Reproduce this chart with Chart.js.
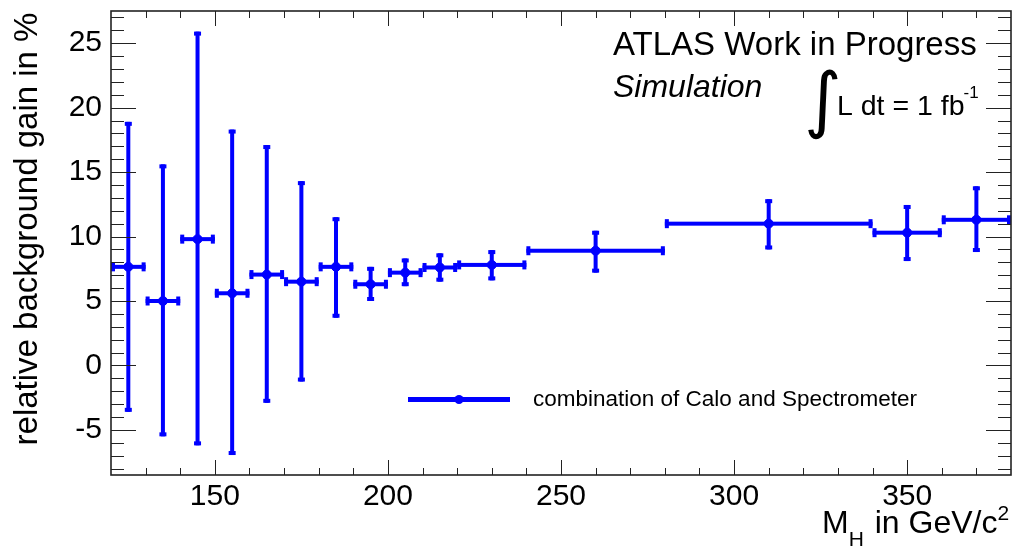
<!DOCTYPE html>
<html>
<head>
<meta charset="utf-8">
<script src="https://cdn.jsdelivr.net/npm/chart.js@4"></script>
<style>
  html, body { margin: 0; padding: 0; background: #fff; }
  #wrap { width: 1012px; height: 552px; }
</style>
</head>
<body>
<div id="wrap"><canvas id="gainChart" width="1012" height="552"></canvas></div>
<script>
// Higgs mass bins (bin centre and half width), GeV/c^2
const massCentre = [125, 135, 145, 155, 165, 175, 185, 195, 205, 215, 230, 260, 310, 350, 370];
const massHalfWidth = [5, 5, 5, 5, 5, 5, 5, 5, 5, 5, 10, 20, 30, 10, 10];
// relative background gain in %
const gain = [7.65, 5.0, 9.8, 5.6, 7.05, 6.5, 7.65, 6.3, 7.2, 7.6, 7.8, 8.9, 11.0, 10.3, 11.3];
const gainUpper = [18.9, 15.6, 25.9, 18.3, 17.1, 14.3, 11.5, 7.65, 8.3, 8.7, 8.95, 10.45, 12.9, 12.45, 13.9];
const gainLower = [-3.6, -5.5, -6.2, -6.95, -2.9, -1.25, 3.7, 5.0, 6.15, 6.5, 6.6, 7.2, 9.0, 8.1, 8.8];

const xTicks = [150, 200, 250, 300, 350];
const yTicks = [-5, 0, 5, 10, 15, 20, 25];

const FONT = "'Liberation Sans', Arial, Helvetica, sans-serif";
const BLUE = "#0000ff";

const points = massCentre.map((m, i) => ({ x: m, y: gain[i] }));

// error bars (ROOT style, with small end caps)
const errorBars = {
  id: "errorBars",
  beforeDatasetsDraw(chart) {
    const ctx = chart.ctx;
    const xs = chart.scales.x, ys = chart.scales.y;
    ctx.save();
    ctx.fillStyle = BLUE;
    const lw = 4, cap = 9;
    massCentre.forEach((m, i) => {
      const x0 = xs.getPixelForValue(m - massHalfWidth[i]);
      const x1 = xs.getPixelForValue(m + massHalfWidth[i]);
      const xc = xs.getPixelForValue(m);
      const yc = ys.getPixelForValue(gain[i]);
      const yt = ys.getPixelForValue(gainUpper[i]);
      const yb = ys.getPixelForValue(gainLower[i]);
      // horizontal bar + caps
      ctx.fillRect(x0, yc - lw / 2, x1 - x0, lw);
      ctx.fillRect(x0, yc - cap / 2, lw, cap);
      ctx.fillRect(x1 - lw, yc - cap / 2, lw, cap);
      // vertical bar + caps
      ctx.fillRect(xc - lw / 2, yt, lw, yb - yt);
      ctx.fillRect(xc - cap / 2 + 1, yt, cap - 2, lw);
      ctx.fillRect(xc - cap / 2 + 1, yb - lw, cap - 2, lw);
    });
    ctx.restore();
  }
};

// frame with inward ticks on all four sides
const frame = {
  id: "frame",
  afterDraw(chart) {
    const ctx = chart.ctx;
    const a = chart.chartArea;
    const xs = chart.scales.x, ys = chart.scales.y;
    ctx.save();
    ctx.strokeStyle = "#222";
    ctx.lineWidth = 1;
    ctx.beginPath();
    for (let v = 130; v <= 370; v += 10) {
      const px = Math.round(xs.getPixelForValue(v)) + 0.5;
      const len = v % 50 === 0 ? 15 : 7;
      ctx.moveTo(px, a.bottom); ctx.lineTo(px, a.bottom - len);
      ctx.moveTo(px, a.top); ctx.lineTo(px, a.top + len);
    }
    for (let v = -8; v <= 27; v += 1) {
      const py = Math.round(ys.getPixelForValue(v)) + 0.5;
      const len = v % 5 === 0 ? 25 : 13;
      ctx.moveTo(a.left, py); ctx.lineTo(a.left + len, py);
      ctx.moveTo(a.right, py); ctx.lineTo(a.right - len, py);
    }
    ctx.stroke();
    ctx.lineWidth = 1.6;
    ctx.strokeRect(a.left, a.top, a.right - a.left, a.bottom - a.top);
    ctx.restore();
  }
};

// titles, legend and ATLAS labels
const labels = {
  id: "labels",
  afterDraw(chart) {
    const ctx = chart.ctx;
    ctx.save();
    ctx.fillStyle = "#000";
    ctx.textBaseline = "alphabetic";

    // y title
    ctx.save();
    ctx.translate(37, 229);
    ctx.rotate(-Math.PI / 2);
    ctx.textAlign = "center";
    ctx.font = "33px " + FONT;
    ctx.fillText("relative background gain in %", 0, 0);
    ctx.restore();

    // x title: M_H in GeV/c^2, right aligned
    ctx.textAlign = "left";
    let x = 822;
    ctx.font = "32px " + FONT;
    ctx.fillText("M", x, 533); x += ctx.measureText("M").width;
    ctx.font = "21px " + FONT;
    ctx.fillText("H", x, 546); x += ctx.measureText("H").width + 2;
    ctx.font = "32px " + FONT;
    ctx.fillText(" in GeV/c", x, 533); x += ctx.measureText(" in GeV/c").width;
    ctx.font = "21px " + FONT;
    ctx.fillText("2", x, 520);

    // ATLAS label
    ctx.font = "33px " + FONT;
    ctx.fillText("ATLAS Work in Progress", 613, 55);
    ctx.font = "italic 32px " + FONT;
    ctx.fillText("Simulation", 613, 97);
    ctx.font = "72px 'DejaVu Sans', sans-serif";
    ctx.fillText("\u222B", 804, 124);
    ctx.font = "28.5px " + FONT;
    ctx.fillText("L dt = 1 fb", 837, 115);
    const w = ctx.measureText("L dt = 1 fb").width;
    ctx.font = "17px " + FONT;
    ctx.fillText("-1", 836 + w, 98);

    // legend
    ctx.fillStyle = BLUE;
    ctx.fillRect(408, 397, 102, 5);
    ctx.beginPath();
    ctx.arc(459, 399.5, 4.5, 0, Math.PI * 2);
    ctx.fill();
    ctx.fillStyle = "#000";
    ctx.font = "22.5px " + FONT;
    ctx.fillText("combination of Calo and Spectrometer", 533, 406);
    ctx.restore();
  }
};

new Chart(document.getElementById("gainChart"), {
  type: "scatter",
  data: {
    datasets: [{
      label: "combination of Calo and Spectrometer",
      data: points,
      backgroundColor: BLUE,
      borderColor: BLUE,
      pointRadius: 4.5,
      pointHoverRadius: 4.5,
      showLine: false,
    }],
  },
  options: {
    responsive: false,
    animation: false,
    events: [],
    layout: { autoPadding: false, padding: { top: 11, right: 1, left: 0, bottom: 0 } },
    plugins: {
      legend: { display: false },
      tooltip: { enabled: false },
    },
    scales: {
      x: {
        type: "linear",
        min: 120,
        max: 380,
        grid: { display: false, drawTicks: false },
        border: { display: false },
        afterBuildTicks: (s) => { s.ticks = xTicks.map((v) => ({ value: v })); },
        afterFit: (s) => {
          s.height = 77;
          s.paddingLeft = 0;
          s.paddingRight = 0;
        },
        ticks: {
          autoSkip: false,
          maxRotation: 0,
          padding: 4,
          color: "#000",
          font: { family: FONT, size: 30 },
        },
      },
      y: {
        type: "linear",
        min: -8.5,
        max: 27.5,
        grid: { display: false, drawTicks: false },
        border: { display: false },
        afterBuildTicks: (s) => { s.ticks = yTicks.map((v) => ({ value: v })); },
        afterFit: (s) => {
          s.width = 111;
          s.paddingTop = 0;
          s.paddingBottom = 0;
        },
        ticks: {
          autoSkip: false,
          padding: 9,
          color: "#000",
          font: { family: FONT, size: 30 },
        },
      },
    },
  },
  plugins: [errorBars, frame, labels],
});
</script>
</body>
</html>
